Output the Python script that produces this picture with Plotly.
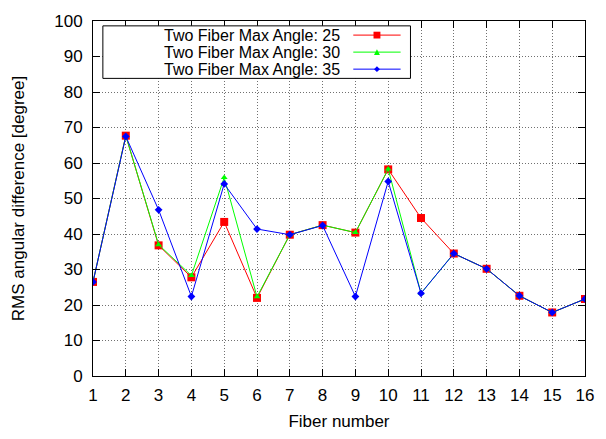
import plotly.graph_objects as go

fiber = list(range(1, 17))
angle_25 = [26.5, 67.7, 36.8, 27.8, 43.4, 22.0, 39.8, 42.5, 40.4, 58.2, 44.5, 34.5, 30.2, 22.6, 17.9, 21.7]
angle_30 = [26.5, 67.7, 37.0, 28.3, 55.9, 22.3, 39.8, 42.5, 40.4, 58.3, 23.3, 34.5, 30.2, 22.6, 17.9, 21.7]
angle_35 = [26.5, 67.5, 46.8, 22.4, 54.1, 41.4, 39.8, 42.4, 22.4, 54.8, 23.3, 34.5, 30.2, 22.6, 17.9, 21.7]
series_names = ["Two Fiber Max Angle: 25", "Two Fiber Max Angle: 30", "Two Fiber Max Angle: 35"]
colors = ["#ff0000", "#00ff00", "#0000ff"]
symbols = ["square", "triangle-up", "diamond"]
sizes = [8, 6, 6]

FONT = "Liberation Sans, Arial, sans-serif"
FS = 17
KEY_FS = 16

fig = go.Figure()
for vals, name, c, s, sz in zip([angle_25, angle_30, angle_35], series_names, colors, symbols, sizes):
    fig.add_trace(go.Scatter(
        x=fiber, y=vals, name=name, mode="lines+markers",
        line=dict(color=c, width=1),
        marker=dict(color=c, symbol=s, size=sz, line=dict(width=0)),
        showlegend=False,
    ))

axis_common = dict(
    showline=True, linecolor="black", linewidth=1, mirror="ticks",
    ticks="inside", ticklen=7, tickcolor="black",
    showgrid=True, gridcolor="#707070", griddash="1px,2px", gridwidth=1,
    zeroline=False, tickfont=dict(family=FONT, size=FS, color="black"),
)

fig.update_layout(
    width=606, height=439,
    margin=dict(l=93, r=14, t=14, b=60),
    paper_bgcolor="white", plot_bgcolor="white",
    font=dict(family=FONT, size=FS, color="black"),
    xaxis=dict(range=[1, 16], dtick=1, tick0=1, ticklabelstandoff=4,
               title=dict(text="Fiber number", font=dict(family=FONT, size=FS), standoff=10),
               **axis_common),
    yaxis=dict(range=[0, 100], dtick=10, ticklabelstandoff=6,
               title=dict(text="RMS angular difference [degree]", font=dict(family=FONT, size=FS), standoff=25),
               **axis_common),
)

# Key box in the upper left, text right-aligned with line samples on the right
PW, PH = 499, 365
box_x0, box_x1 = (103 - 93) / PW, (415 - 93) / PW
box_y0, box_y1 = (379 - 73) / PH, (379 - 19) / PH
fig.add_shape(type="rect", xref="paper", yref="paper", x0=box_x0, x1=box_x1, y0=box_y0, y1=box_y1,
              line=dict(color="black", width=1), fillcolor="white", layer="above")
row_y = [(379 - py) / PH for py in (28.5, 46, 63.5)]
text_x = (345 - 93) / PW
line_x0, line_x1 = (357 - 93) / PW, (405 - 93) / PW
mx = (line_x0 + line_x1) / 2
for name, c, s, y in zip(series_names, colors, symbols, row_y):
    fig.add_annotation(x=text_x, y=y, xref="paper", yref="paper", text=name, showarrow=False,
                       xanchor="right", yanchor="middle", borderpad=0,
                       font=dict(family=FONT, size=KEY_FS, color="black"))
    fig.add_shape(type="line", xref="paper", yref="paper", x0=line_x0, x1=line_x1, y0=y, y1=y,
                  line=dict(color=c, width=1), layer="above")
    if s == "square":
        dx, dy = 3.5 / PW, 3.5 / PH
        fig.add_shape(type="rect", xref="paper", yref="paper", x0=mx - dx, x1=mx + dx, y0=y - dy, y1=y + dy,
                      line=dict(width=0), fillcolor=c, layer="above")
    elif s == "triangle-up":
        ex, ey = 3 / PW, 3 / PH
        fig.add_shape(type="path", xref="paper", yref="paper",
                      path=f"M {mx - ex} {y - ey} L {mx + ex} {y - ey} L {mx} {y + ey} Z",
                      line=dict(width=0), fillcolor=c, layer="above")
    else:
        ex, ey = 3 / PW, 3 / PH
        fig.add_shape(type="path", xref="paper", yref="paper",
                      path=f"M {mx - ex} {y} L {mx} {y + ey} L {mx + ex} {y} L {mx} {y - ey} Z",
                      line=dict(width=0), fillcolor=c, layer="above")

fig.write_html("out.html")
